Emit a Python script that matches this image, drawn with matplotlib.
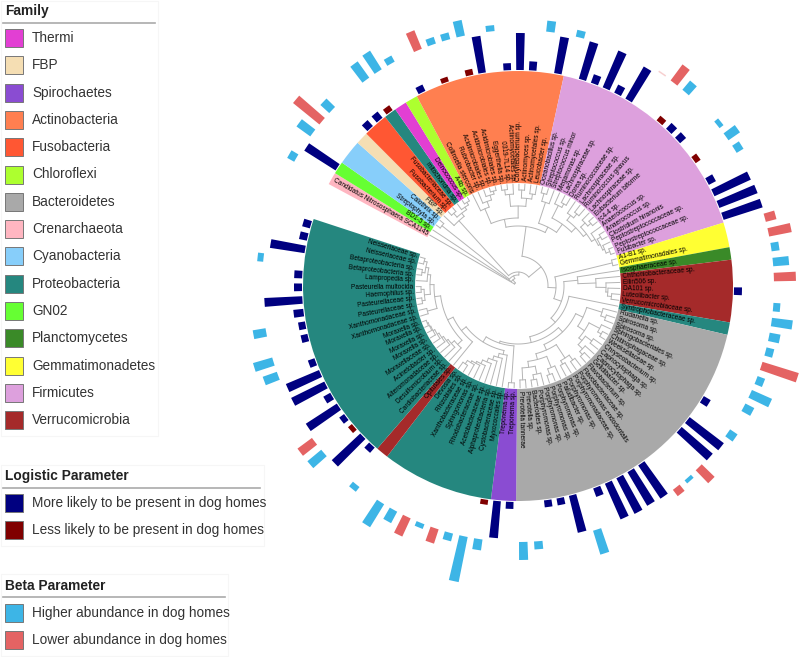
import numpy as np
import matplotlib
matplotlib.use('Agg')
import matplotlib.pyplot as plt
from matplotlib.patches import Rectangle

plt.rcParams['font.family'] = ['Liberation Sans', 'DejaVu Sans']

family_names = ["Thermi", "FBP", "Spirochaetes", "Actinobacteria", "Fusobacteria", "Chloroflexi",
	"Bacteroidetes", "Crenarchaeota", "Cyanobacteria", "Proteobacteria", "GN02", "Planctomycetes",
	"Gemmatimonadetes", "Firmicutes", "Verrucomicrobia"]
family_colors = ["#E23FD3", "#F5DEB3", "#8A4CD2", "#FF7F50", "#FF5733", "#ADFF2F",
	"#A9A9A9", "#FFB6C1", "#87CEFA", "#25877F", "#66FF33", "#3A8A28",
	"#FFFF33", "#DDA0DD", "#A52A2A"]

# ring sectors clockwise from the gap: (family index, number of leaves)
ring_family = [7, 10, 8, 1, 4, 9, 0, 5, 3, 13, 12, 11, 14, 9, 6, 2, 9, 14, 9]
ring_count = [1, 1, 2, 1, 2, 1, 1, 1, 12, 18, 2, 1, 5, 1, 23, 2, 9, 1, 20]

leaf_names = ["Candidatus Nitrososphaera SCA1145", "BD1-5 sp.", "Streptophyta sp.", "Calothrix sp.", "FBP sp.",
	"Fusobacterium sp.", "Fusobacteriaceae sp.", "mitochondria sp.", "Deinococcus sp.", "A4b sp.",
	"Collinsella stercoris", "Rubrobacter sp.", "Acidimicrobiales sp.", "Acidimicrobiales sp.", "Acidimicrobiales sp.",
	"Eggerthella sp.", "0319-7L14 sp.", "Actinomycetales sp.", "Corynebacterium sp.", "Actinomyces sp.",
	"Actinomycetales sp.", "Leucobacter sp.",
	"Oceanobacillus sp.", "Streptococcus sp.", "Streptococcus minor", "Megamonas sp.", "Lachnospiraceae sp.", "Dorea sp.",
	"Ruminococcaceae sp.", "Lachnospiraceae sp.", "Ruminococcus gnavus", "Lachnospiraceae sp.", "Eubacterium biforme",
	"rc4-4 sp.", "Anaerococcus sp.", "Anaerococcus sp.", "Clostridium hiranonis", "Peptostreptococcaceae sp.",
	"Peptostreptococcaceae sp.", "Fusibacter sp.",
	"A1-B1 sp.", "Gemmatimonadales sp.", "Isosphaeraceae sp.", "Chthoniobacteraceae sp.", "Ellin506 sp.", "DA101 sp.",
	"Luteolibacter sp.", "Verrucomicrobiaceae sp.", "Syntrophobacteraceae sp.",
	"Rudanella sp.", "Spirosoma sp.", "Spirosoma sp.", "Sphingobacteriales sp.", "Chitinophagaceae sp.", "Weeksellaceae sp.",
	"Chryseobacterium sp.", "Capnocytophaga sp.", "Capnocytophaga sp.", "Gelidibacter sp.", "Flavobacterium sp.",
	"Flavobacteriaceae sp.", "Porphyromonas endodontalis", "Porphyromonadaceae sp.", "Porphyromonas sp.", "Paludibacter sp.",
	"Porphyromonas sp.", "Porphyromonas sp.", "Porphyromonas sp.", "Porphyromonas sp.", "Bacteroides sp.", "Prevotella sp.",
	"Prevotella tannerae",
	"Treponema sp.", "Treponema sp.",
	"Myxococcales sp.", "Cystobacteraceae sp.", "Alphaproteobacteria sp.", "Acetobacteraceae sp.", "Rhodobacteraceae sp.",
	"Sphingomonas sp.", "Xanthobacteraceae sp.", "Rhizobiales sp.", "Devosia sp.",
	"Opitutales sp.",
	"Cardiobacteriaceae sp.", "Desulfomicrobium sp.", "Alteromonadaceae sp.", "Acinetobacter sp.", "Moraxellaceae sp.",
	"Moraxella sp.", "Moraxella sp.", "Moraxella sp.", "Moraxella sp.", "Xanthomonadaceae sp.", "Xanthomonadaceae sp.",
	"Pasteurellaceae sp.", "Pasteurellaceae sp.", "Haemophilus sp.", "Pasteurella multocida", "Lampropedia sp.",
	"Betaproteobacteria sp.", "Betaproteobacteria sp.", "Neisseriaceae sp.", "Neisseriaceae sp."]

# inner ring, positive = more likely, negative = less likely
logistic_leaf = [1, 5, 6, 7, 10, 12, 14, 15, 17, 18, 19, 21, 23, 24, 25, 26, 27, 30, 31, 32, 34, 36, 37, 38, 39, 45,
	54, 56, 57, 61, 62, 63, 64, 65, 67, 68, 69, 72, 73, 74, 84, 85, 86, 87, 88, 89, 90, 91, 92, 94, 95, 96, 97, 98, 99,
	101, 102, 103]
logistic_value = [37, 8, 8, -6, 7, -5, -6, 37, 7, 37, 9, 37, 39, 9, 40, 9, 37, -6, 8, 8, -6, 8, 40, 41, 41, 8,
	8, 43, 41, 40, 39, 40, 39, 9, 38, 7, 7, 7, 37, -5, 7, 39, -5, 6, 37, 8, 37, 36, 7, 7, 7, 10, 38, 8, 8,
	35, 8, 8]

# outer ring, positive = higher abundance, negative = lower abundance
beta_leaf = [0, 2, 3, 4, 7, 8, 9, 11, 12, 13, 14, 16, 20, 22, 28, 29, 30, 33, 34, 35, 40, 41, 42, 43, 44, 46, 47, 48,
	49, 50, 51, 52, 53, 55, 58, 59, 60, 66, 70, 71, 74, 75, 76, 77, 78, 79, 80, 81, 83, 86, 87, 92, 93, 95, 100]
beta_value = [8, 17, -34, 12, 20, 22, 7, -20, 7, 7, 16, 6, 11, 7, -1.5, -20, 12, 5, 14, 8, -11, -23, 8, 16, -22, 7, 21, 11,
	8, -38, 8, 22, 10, 9, -18, 4, -8, 25, 8, 18, 11, 46, 8, -15, 5, -20, 13, 27, 6, 18, -18, 15, 20, 13, 6]

legend_logistic = ["More likely to be present in dog homes", "Less likely to be present in dog homes"]
legend_beta = ["Higher abundance in dog homes", "Lower abundance in dog homes"]

NAVY, MAROON, SKY, SALMON = "#000080", "#800000", "#3DB5E6", "#E46363"
CX, CY, R_MAX = 518, 286, 320
R_IN, R_OUT, R_LOG, R_BETA = 103, 215, 216, 256
START, STEP = 151.7, 3.364
W, H = 800, 657

L = 0
tree = [4, L, [8, L, [11, [97, L, L], [14,
	[88, L, [92, [97, L, L], [95, L, [98, L, L]]]],
	[30,
		[60,
			[68, [84, L, [90, L, [95, L, [98, L, L]]]], [80, [92, [97, L, L], L], [88, [96, L, L], [93, L, L]]]],
			[66, [88, [96, L, L], L], [76, [90, L, [94, L, L]],
				[82, [88, L, [93, L, L]], [86, [92, L, [96, L, L]], [90, L, [92, [96, L, L], [94, L, [98, L, L]]]]]]]]],
		[38, [97, L, L],
			[46, [60, L, [78, L, [88, L, [90, L, [94, L, L]]]]],
				[52, L, [58,
					[64,
						[72, [88, L, [93, L, L]], [80, [92, L, [96, L, L]], [84, [92, L, L], [90, L, [94, L, L]]]]],
						[70, [86, [92, L, L], [90, L, L]], [76, [88, L, [94, L, L]], [82, [90, L, [95, L, L]], [94, L, L]]]]],
					[60, [97, L, L],
						[66, [70, L, [74, L, [78, L, [82, L, [86, L, [88, L, [90, L, [94, L, L]]]]]]]],
							[72, L, [78,
								[84, L, [88, L, [90, L, [92, L, [94, L, [96, L, [97, L, [98, L, L]]]]]]]],
								[84, [94, L, L], [88, [94, [97, L, L], [97, L, L]], [91, L, [94, [97, L, L], [97, L, L]]]]]]]]]]]]]]]]]]


def leaf_theta(i):
	return np.deg2rad(START - (i + 0.5) * STEP)


fig = plt.figure(figsize=(W / 100, H / 100), dpi=100)
ax = fig.add_axes([(CX - R_MAX) / W, 1 - (CY + R_MAX) / H, 2 * R_MAX / W, 2 * R_MAX / H], projection='polar')
ax.set_ylim(0, R_MAX)
ax.axis('off')

# family sectors
pos = 0
for fam, n in zip(ring_family, ring_count):
	mid = np.deg2rad(START - (pos + n / 2) * STEP)
	ax.bar(mid, R_OUT - R_IN, width=np.deg2rad(n * STEP), bottom=R_IN, color=family_colors[fam], linewidth=0)
	pos += n

# tree
leaf_counter = [0]


def draw_node(node):
	if node == L:
		i = leaf_counter[0]
		leaf_counter[0] += 1
		return leaf_theta(i), R_IN - 1
	r = node[0]
	kids = [draw_node(k) for k in node[1:]]
	for t, kr in kids:
		ax.plot([t, t], [r, kr], color="#B4B4B4", lw=0.7, solid_capstyle='round')
	ts = [t for t, _ in kids]
	arc = np.linspace(min(ts), max(ts), 60)
	ax.plot(arc, np.full_like(arc, r), color="#B4B4B4", lw=0.7)
	return (min(ts) + max(ts)) / 2, r


draw_node(tree)

# leaf labels
for i, name in enumerate(leaf_names):
	t = leaf_theta(i)
	deg = np.rad2deg(t)
	right = np.cos(t) >= 0
	ax.text(t, R_IN + 2, name, fontsize=4.7, color="black", rotation=deg if right else deg + 180,
		rotation_mode='anchor', ha='left' if right else 'right', va='center')

# parameter bars
for i, v in zip(logistic_leaf, logistic_value):
	ax.bar(leaf_theta(i), abs(v), width=np.deg2rad(2.0), bottom=R_LOG, color=NAVY if v > 0 else MAROON, linewidth=0)
for i, v in zip(beta_leaf, beta_value):
	pale = abs(v) < 2
	ax.bar(leaf_theta(i), abs(v), width=np.deg2rad(1.9), bottom=R_BETA, color=SKY if v > 0 else SALMON,
		linewidth=0, alpha=0.3 if pale else 1)

# legends
lg = fig.add_axes([0, 0, 1, 1], facecolor='none')
lg.set_xlim(0, W)
lg.set_ylim(H, 0)
lg.axis('off')


def legend_block(title, names, colors, top, right, title_y, rule_y, row_y, rule_x):
	bottom = row_y[-1] + 16
	lg.add_patch(Rectangle((1, top), right - 1, bottom - top, fc='white', ec='#F6F6F6', lw=0.8))
	lg.text(5, title_y, title, fontsize=9.9, fontweight='bold', color="#222222", va='center')
	lg.plot([3, rule_x], [rule_y, rule_y], color="#AAAAAA", lw=1.2)
	for name, c, y in zip(names, colors, row_y):
		lg.add_patch(Rectangle((5, y - 9), 18, 18, fc=c, ec='#777777', lw=0.7))
		lg.text(32, y, name, fontsize=9.85, color="#333333", va='center')


legend_block("Family", family_names, family_colors, 1, 158, 11, 23, [38 + 27.3 * k for k in range(15)], 155)
legend_block("Logistic Parameter", legend_logistic, [NAVY, MAROON], 465, 264, 476, 488, [503, 530], 260)
legend_block("Beta Parameter", legend_beta, [SKY, SALMON], 574, 228, 586, 597, [613, 640], 225)

fig.savefig("out.png", dpi=100)
